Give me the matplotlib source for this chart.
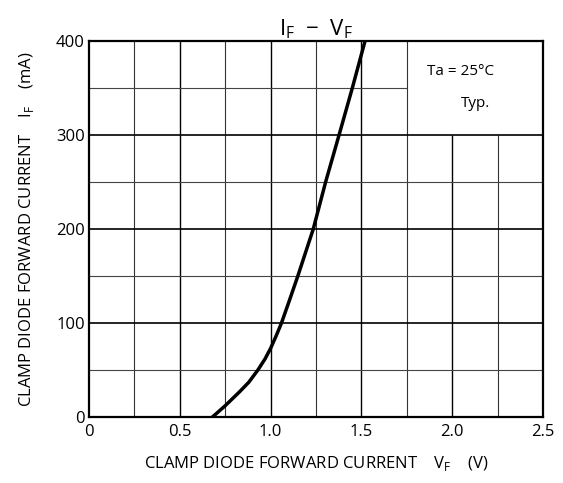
import matplotlib.pyplot as plt
import numpy as np

plt.rcParams['font.family'] = ['Open Sans', 'DejaVu Sans']

# IF - VF curve
vf = [0.68, 0.75, 0.83, 0.88, 0.93, 0.97, 1.0, 1.03, 1.06, 1.1, 1.15, 1.235, 1.303, 1.377, 1.45, 1.52, 1.535]
i_f = [0, 12, 27, 37, 50, 62, 73, 86, 100, 122, 150, 200, 250, 300, 350, 400, 410]

x_ticks = [0, 0.5, 1.0, 1.5, 2.0, 2.5]
x_labels = ["0", "0.5", "1.0", "1.5", "2.0", "2.5"]
y_ticks = [0, 100, 200, 300, 400]
y_labels = ["0", "100", "200", "300", "400"]

fig = plt.figure(figsize=(5.63, 4.83), dpi=100)
ax = fig.add_axes([0.158, 0.1366, 0.8065, 0.7784])

# grid, left open in the upper right where the note sits
for v in np.arange(0.25, 2.5, 0.25):
    top = 300 if v > 1.8 else 400
    major = abs(v * 2 - round(v * 2)) < 1e-6
    ax.vlines(v, 0, top, color="black" if major else "#333333", lw=1.0 if major else 0.8, zorder=1)
for h in range(50, 400, 50):
    right = 1.75 if h > 300 else 2.5
    major = h % 100 == 0
    ax.hlines(h, 0, right, color="black" if major else "#444444", lw=1.2 if major else 0.8, zorder=1)

ax.plot(vf, i_f, color="black", lw=2.5, zorder=3, clip_on=True)

ax.set_xlim(0, 2.5)
ax.set_ylim(0, 400)
ax.set_xticks(x_ticks)
ax.set_xticklabels(x_labels)
ax.set_yticks(y_ticks)
ax.set_yticklabels(y_labels)
ax.tick_params(length=0, labelsize=12, pad=3)
ax.tick_params(axis="x", pad=5)
for s in ax.spines.values():
    s.set_linewidth(1.6)

ax.text(1.86, 364, "Ta = 25°C", fontsize=11)
ax.text(2.05, 330, "Typ.", fontsize=11)

ax.set_title(r"I$_\mathregular{F}$  −  V$_\mathregular{F}$", fontsize=16, pad=4)
ax.set_xlabel(r"CLAMP DIODE FORWARD CURRENT    V$_\mathregular{F}$    (V)", fontsize=12, labelpad=10)
ax.set_ylabel(r"CLAMP DIODE FORWARD CURRENT    I$_\mathregular{F}$    (mA)", fontsize=12, labelpad=14)

fig.savefig("out.png", dpi=100)
